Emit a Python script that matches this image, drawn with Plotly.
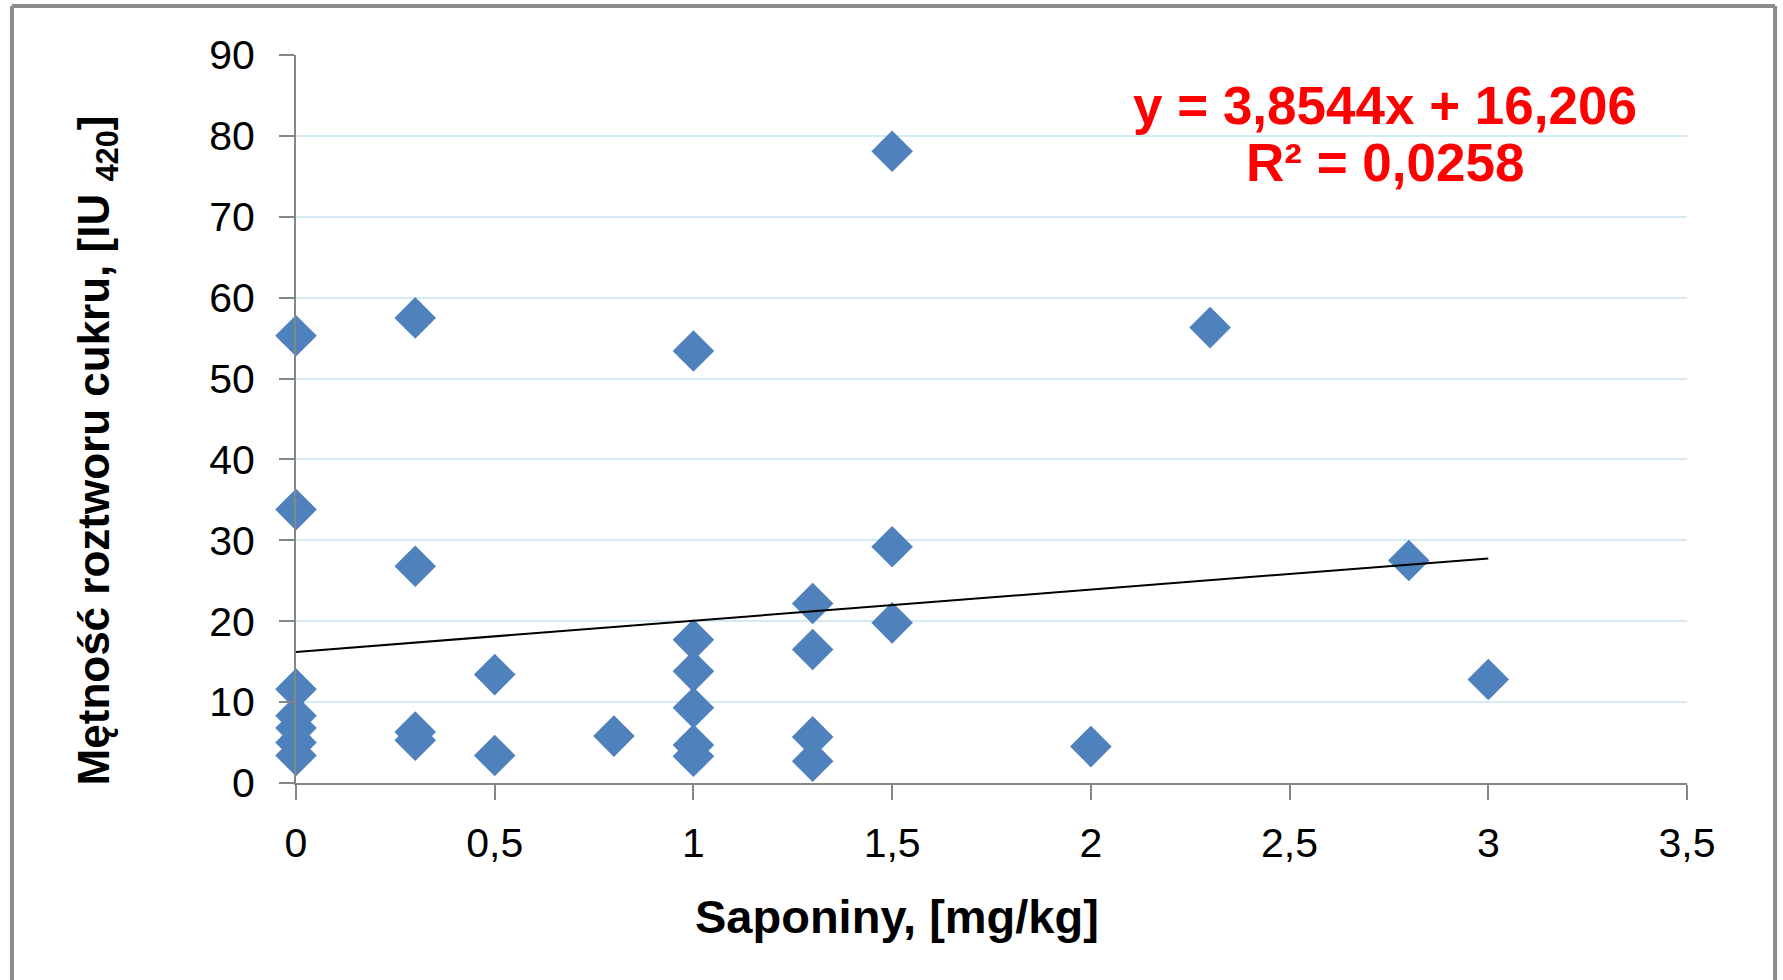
import numpy as np
import plotly.graph_objects as go

# ---- data ----
saponiny = [0, 0, 0, 0, 0, 0, 0,
            0.3, 0.3, 0.3, 0.3,
            0.5, 0.5,
            0.8,
            1, 1, 1, 1, 1, 1,
            1.3, 1.3, 1.3, 1.3,
            1.5, 1.5, 1.5,
            2,
            2.3,
            2.8,
            3]
metnosc = [55.3, 33.8, 11.6, 8.3, 6.8, 5.0, 3.4,
           57.5, 26.8, 6.3, 5.3,
           13.4, 3.4,
           5.8,
           53.4, 17.7, 13.8, 9.3, 4.7, 3.3,
           22.2, 16.5, 5.7, 2.7,
           78.1, 29.2, 19.8,
           4.5,
           56.3,
           27.5,
           12.8]

trend_slope = 3.8544
trend_intercept = 16.206
r_squared = 0.0258

x_ticks = [0, 0.5, 1, 1.5, 2, 2.5, 3, 3.5]
x_tick_labels = ["0", "0,5", "1", "1,5", "2", "2,5", "3", "3,5"]
y_ticks = [0, 10, 20, 30, 40, 50, 60, 70, 80, 90]
y_tick_labels = [str(v) for v in y_ticks]

x_title = "Saponiny, [mg/kg]"
y_title = "Mętność roztworu cukru, [IU <sub>420</sub>]"
eq_line1 = "y = 3,8544x + 16,206"
eq_line2 = "R² = 0,0258"

FONT = "Liberation Sans, Arial, sans-serif"

fig = go.Figure()

fig.add_trace(go.Scatter(
    x=saponiny, y=metnosc, mode="markers",
    marker=dict(symbol="diamond", size=32, color="#4F81BD", line=dict(width=0)),
    showlegend=False, hoverinfo="x+y", cliponaxis=False,
))

tx = np.array([min(saponiny), max(saponiny)])
fig.add_trace(go.Scatter(
    x=tx, y=trend_slope * tx + trend_intercept, mode="lines",
    line=dict(color="black", width=2),
    showlegend=False, hoverinfo="skip", cliponaxis=False,
))

axis_color = "#868686"
grid_color = "#D5EAF3"

fig.update_layout(
    width=1783, height=980,
    margin=dict(l=296, r=96, t=55, b=197),
    paper_bgcolor="white", plot_bgcolor="white",
    font=dict(family=FONT, color="black"),
    xaxis=dict(
        range=[0, 3.5], tickvals=x_ticks, ticktext=x_tick_labels,
        showgrid=False, zeroline=False,
        showline=True, linecolor=axis_color, linewidth=2,
        ticks="outside", ticklen=15, tickwidth=2, tickcolor=axis_color,
        tickfont=dict(size=41, color="black", family=FONT),
        ticklabelstandoff=8,
    ),
    yaxis=dict(
        range=[0, 90], tickvals=y_ticks, ticktext=y_tick_labels,
        showgrid=True, gridcolor=grid_color, gridwidth=1.5,
        zeroline=False,
        showline=True, linecolor=axis_color, linewidth=2,
        ticks="outside", ticklen=15, tickwidth=2, tickcolor=axis_color,
        tickfont=dict(size=41, color="black", family=FONT),
        ticklabelstandoff=16,
    ),
    annotations=[
        dict(text="<b>" + x_title + "</b>", xref="paper", yref="paper",
             x=0.432, y=-0.183, xanchor="center", yanchor="middle",
             showarrow=False, font=dict(size=47, color="black", family=FONT)),
        dict(text="<b>" + y_title + "</b>", xref="paper", yref="paper",
             x=-0.143, y=0.457, xanchor="center", yanchor="middle", textangle=-90,
             showarrow=False, font=dict(size=44, color="black", family=FONT)),
        dict(text="<b>" + eq_line1 + "</b>", xref="paper", yref="paper",
             x=0.783, y=0.930, xanchor="center", yanchor="middle",
             showarrow=False, font=dict(size=53, color="#FF0000", family=FONT)),
        dict(text="<b>" + eq_line2 + "</b>", xref="paper", yref="paper",
             x=0.783, y=0.852, xanchor="center", yanchor="middle",
             showarrow=False, font=dict(size=53, color="#FF0000", family=FONT)),
    ],
    shapes=[
        # outer chart frame (left, top, right edges)
        dict(type="line", xref="paper", yref="paper", x0=-0.2042, x1=-0.2042,
             y0=-0.30, y1=1.0674, line=dict(color="#8C8C8C", width=4)),
        dict(type="line", xref="paper", yref="paper", x0=-0.2042, x1=1.0633,
             y0=1.0674, y1=1.0674, line=dict(color="#8C8C8C", width=4)),
        dict(type="line", xref="paper", yref="paper", x0=1.0633, x1=1.0633,
             y0=-0.30, y1=1.0674, line=dict(color="#8C8C8C", width=4)),
    ],
)

fig.write_html("out.html", config={"displayModeBar": False},
               post_script="document.body.style.margin='0';document.body.style.overflow='hidden';")
